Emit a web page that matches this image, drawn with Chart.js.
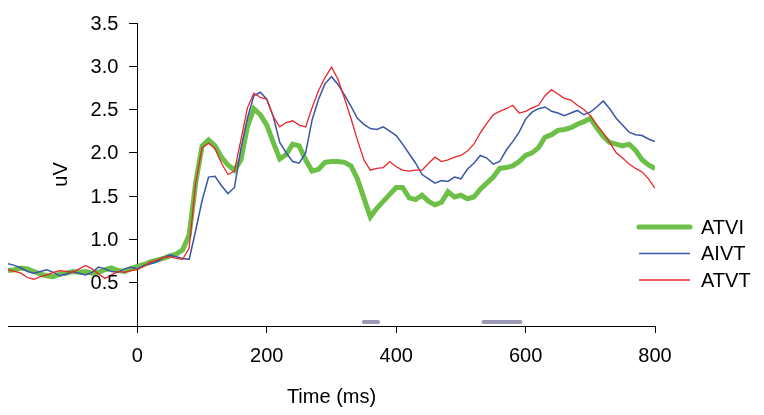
<!DOCTYPE html>
<html>
<head>
<meta charset="utf-8">
<script src="https://cdn.jsdelivr.net/npm/chart.js@4"></script>
<style>
  html, body { margin: 0; padding: 0; background: #fff; }
  canvas { display: block; }
</style>
</head>
<body>
<canvas id="erp" width="764" height="415"></canvas>
<script>
// time points in ms, one sample every 10 ms
const times = [];
for (let t = -200; t <= 800; t += 10) times.push(t);

const atvi = [
  0.64, 0.65, 0.67, 0.66, 0.63, 0.60, 0.58, 0.57, 0.60, 0.61,
  0.63, 0.62, 0.63, 0.61, 0.62, 0.65, 0.67, 0.64, 0.63, 0.66,
  0.69, 0.71, 0.74, 0.76, 0.78, 0.81, 0.83, 0.88, 1.05, 1.65,
  2.08, 2.15, 2.08, 1.95, 1.86, 1.80, 1.92, 2.30, 2.51, 2.44,
  2.32, 2.12, 1.93, 1.98, 2.10, 2.08, 1.92, 1.79, 1.81, 1.89,
  1.90, 1.90, 1.89, 1.85, 1.70, 1.48, 1.26, 1.36, 1.44, 1.52,
  1.60, 1.60, 1.48, 1.46, 1.51, 1.44, 1.40, 1.43, 1.55, 1.49,
  1.51, 1.47, 1.49, 1.58, 1.65, 1.72, 1.82, 1.83, 1.85, 1.90,
  1.97, 2.00, 2.06, 2.18, 2.21, 2.26, 2.27, 2.29, 2.33, 2.36,
  2.40, 2.29, 2.19, 2.12, 2.10, 2.08, 2.10, 2.03, 1.92, 1.86,
  1.82
];

const aivt = [
  0.72, 0.70, 0.67, 0.63, 0.61, 0.63, 0.65, 0.62, 0.58, 0.60,
  0.63, 0.61, 0.59, 0.62, 0.68, 0.66, 0.63, 0.62, 0.66, 0.68,
  0.66, 0.70, 0.72, 0.74, 0.79, 0.82, 0.80, 0.78, 0.77, 1.10,
  1.45, 1.72, 1.73, 1.62, 1.53, 1.60, 2.05, 2.40, 2.66, 2.70,
  2.62, 2.42, 2.12, 2.00, 1.90, 1.88, 2.00, 2.38, 2.62, 2.80,
  2.88, 2.79, 2.67, 2.54, 2.40, 2.33, 2.28, 2.27, 2.30, 2.25,
  2.20, 2.10, 1.99, 1.88, 1.75, 1.70, 1.65, 1.68, 1.67, 1.72,
  1.70, 1.81, 1.88, 1.97, 1.94, 1.87, 1.90, 2.03, 2.13, 2.24,
  2.39, 2.47, 2.51, 2.53, 2.48, 2.46, 2.43, 2.46, 2.49, 2.44,
  2.47, 2.53, 2.60, 2.51, 2.40, 2.32, 2.24, 2.21, 2.20, 2.16,
  2.13
];

const atvt = [
  0.65, 0.63, 0.61, 0.56, 0.54, 0.57, 0.59, 0.62, 0.64, 0.63,
  0.62, 0.66, 0.70, 0.66, 0.60, 0.55, 0.59, 0.63, 0.62, 0.64,
  0.65, 0.69, 0.74, 0.76, 0.79, 0.80, 0.78, 0.77, 0.90, 1.65,
  2.06, 2.11, 2.05, 1.88, 1.75, 1.79, 2.15, 2.52, 2.69, 2.64,
  2.62, 2.42, 2.30, 2.35, 2.37, 2.32, 2.30, 2.52, 2.72, 2.87,
  2.99, 2.85, 2.63, 2.40, 2.15, 1.92, 1.80, 1.82, 1.83, 1.90,
  1.84, 1.80, 1.79, 1.80, 1.80, 1.88, 1.95, 1.90, 1.92, 1.95,
  1.97, 2.02, 2.10, 2.23, 2.34, 2.44, 2.48, 2.51, 2.55, 2.46,
  2.48, 2.52, 2.55, 2.66, 2.73, 2.68, 2.63, 2.61, 2.55, 2.50,
  2.43, 2.32, 2.23, 2.12, 2.00, 1.94, 1.87, 1.82, 1.78, 1.70,
  1.59
];

// significant windows (ms), drawn as grey bars just above the x axis
const sigRanges = [[350, 372], [535, 592]];
const sigLevel = 0.045;

const seriesNames = ['ATVI', 'AIVT', 'ATVT'];
const seriesColors = ['#6cbf47', '#3a56a5', '#e8262b'];
const seriesWidths = [5, 1.5, 1.3];

const xTicks = [-200, 0, 200, 400, 600, 800];
const yTicks = [0.5, 1.0, 1.5, 2.0, 2.5, 3.0, 3.5];

const FONT = '"Liberation Sans", Arial, sans-serif';

function toPoints(values) {
  return values.map((v, i) => ({ x: times[i], y: v }));
}

const sigData = [];
sigRanges.forEach(r => {
  sigData.push({ x: r[0], y: sigLevel });
  sigData.push({ x: r[1], y: sigLevel });
  sigData.push({ x: r[1] + 1, y: null });
});

const datasets = [atvi, aivt, atvt].map((vals, i) => ({
  label: seriesNames[i],
  data: toPoints(vals),
  borderColor: seriesColors[i],
  borderWidth: seriesWidths[i],
  pointRadius: 0,
  tension: 0,
  fill: false,
  order: 3 - i
}));

datasets.push({
  label: 'sig',
  data: sigData,
  borderColor: '#9a9ab6',
  borderWidth: 4,
  borderCapStyle: 'round',
  pointRadius: 0,
  spanGaps: false,
  order: 0
});

// y tick labels, axis titles and legend drawn by hand
const extras = {
  id: 'extras',
  afterDraw(chart) {
    const { ctx, chartArea, scales } = chart;
    ctx.save();
    ctx.fillStyle = '#000';
    ctx.font = '20px ' + FONT;

    const axisX = scales.x.getPixelForValue(0);
    ctx.textAlign = 'right';
    ctx.textBaseline = 'middle';
    yTicks.forEach(v => {
      ctx.fillText(v.toFixed(1), axisX - 19, scales.y.getPixelForValue(v) + 1);
    });

    ctx.textAlign = 'center';
    ctx.fillText('Time (ms)', (chartArea.left + chartArea.right) / 2, 397);
    ctx.save();
    ctx.translate(61, (chartArea.top + chartArea.bottom) / 2);
    ctx.rotate(-Math.PI / 2);
    ctx.fillText('uV', 0, 0);
    ctx.restore();

    ctx.textAlign = 'left';
    seriesNames.forEach((name, i) => {
      const y = 227 + i * 26.5;
      ctx.strokeStyle = seriesColors[i];
      ctx.lineWidth = i === 0 ? 5 : 1.5;
      ctx.lineCap = i === 0 ? 'round' : 'butt';
      ctx.beginPath();
      ctx.moveTo(639, y);
      ctx.lineTo(690, y);
      ctx.stroke();
      ctx.fillText(name, 701, y + 1);
    });
    ctx.restore();
  }
};

new Chart(document.getElementById('erp'), {
  type: 'line',
  data: { datasets: datasets },
  options: {
    responsive: false,
    animation: false,
    layout: { padding: { left: 8, right: 109, top: 15, bottom: 89 } },
    plugins: { legend: { display: false }, tooltip: { enabled: false } },
    scales: {
      x: {
        type: 'linear',
        position: { y: 0 },
        min: -200,
        max: 800,
        afterBuildTicks: axis => { axis.ticks = xTicks.map(v => ({ value: v })); },
        ticks: {
          color: '#000',
          font: { family: FONT, size: 20 },
          padding: 12,
          maxRotation: 0,
          callback: v => (v === -200 ? null : String(v))
        },
        grid: { drawOnChartArea: false, tickLength: 6, color: '#000', tickColor: '#000' },
        border: { color: '#000', width: 1 }
      },
      y: {
        type: 'linear',
        position: { x: 0 },
        min: 0,
        max: 3.5,
        afterBuildTicks: axis => { axis.ticks = yTicks.map(v => ({ value: v })); },
        ticks: {
          color: 'rgba(0,0,0,0)',
          font: { family: FONT, size: 20 },
          padding: 11,
          callback: v => v.toFixed(1)
        },
        grid: { drawOnChartArea: false, tickLength: 8, color: '#000', tickColor: '#000' },
        border: { color: '#000', width: 1 }
      }
    }
  },
  plugins: [extras]
});
</script>
</body>
</html>
